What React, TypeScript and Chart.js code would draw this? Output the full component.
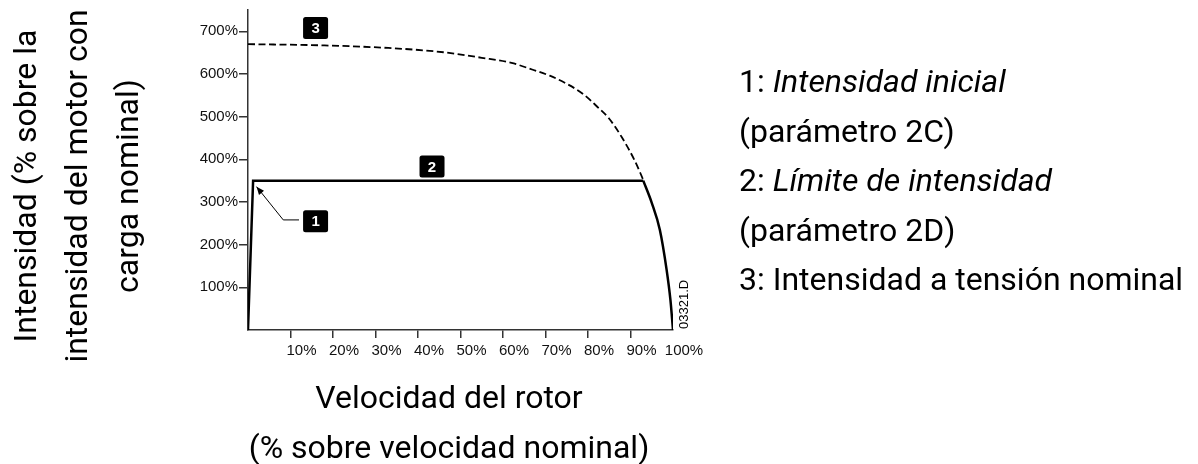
import React, { useEffect, useRef } from "react";
import { Chart, registerables } from "chart.js";

Chart.register(...registerables);

// ---------- data ----------
const speedTicks = [10, 20, 30, 40, 50, 60, 70, 80, 90, 100];
const currentTicks = [100, 200, 300, 400, 500, 600, 700];

// current-limited start (solid)
const rampX = [0, 1.2, 93];
const rampY = [0, 350, 350];
const falloffX = [93, 95, 96.9, 98.5, 99.4, 100];
const falloffY = [350, 298, 235, 141, 70, 0];

// current at nominal voltage (dashed)
const nominalX = [0, 18, 33, 46, 55, 62, 67, 71, 75, 79, 82, 85, 88, 91, 93];
const nominalY = [670, 667, 661, 651, 638, 626, 610, 596, 577, 552, 525, 495, 451, 397, 352];

// numbered markers (data coordinates)
const markerLabels = ["1", "2", "3"];
const markerX = [15.9, 43.3, 15.9];
const markerY = [255, 383, 708];

// leader arrow for marker 1 (data coordinates)
const arrowX = [12.0, 8.3, 2.0];
const arrowY = [258, 258, 336];

const yTitleLines = ["Intensidad (% sobre la", "intensidad del motor con", "carga nominal)"];
const xTitleLines = ["Velocidad del rotor", "(% sobre velocidad nominal)"];
const noteLines: { t: string; i: boolean }[][] = [
  [{ t: "1: ", i: false }, { t: "Intensidad inicial", i: true }],
  [{ t: "(parámetro 2C)", i: false }],
  [{ t: "2: ", i: false }, { t: "Límite de intensidad", i: true }],
  [{ t: "(parámetro 2D)", i: false }],
  [{ t: "3: Intensidad a tensión nominal", i: false }],
];
const drawingCode = "03321.D";

// ---------- layout ----------
const W = 1198;
const H = 464;
const BIG_FONT = "Roboto";
const BIG_SIZE = 32;
const TICK_FONT = "'Liberation Sans', Arial, sans-serif";
const AXIS_COLOR = "#333";

const zip = (xs: number[], ys: number[]) => xs.map((x, i) => ({ x, y: ys[i] }));

const decorPlugin = {
  id: "decor",
  afterDraw(chart: any) {
    const { ctx, chartArea } = chart;
    const xs = chart.scales.x;
    const ys = chart.scales.y;
    ctx.save();

    // arrow for marker 1
    const pts = arrowX.map((v, i) => [xs.getPixelForValue(v), ys.getPixelForValue(arrowY[i])]);
    ctx.strokeStyle = "#000";
    ctx.lineWidth = 1;
    ctx.beginPath();
    pts.forEach((p, i) => (i === 0 ? ctx.moveTo(p[0], p[1]) : ctx.lineTo(p[0], p[1])));
    ctx.stroke();
    const [tx, ty] = pts[pts.length - 1];
    const [px, py] = pts[pts.length - 2];
    const ang = Math.atan2(ty - py, tx - px);
    const hl = 8, hw = 3.2;
    ctx.fillStyle = "#000";
    ctx.beginPath();
    ctx.moveTo(tx, ty);
    ctx.lineTo(tx - hl * Math.cos(ang) + hw * Math.sin(ang), ty - hl * Math.sin(ang) - hw * Math.cos(ang));
    ctx.lineTo(tx - hl * Math.cos(ang) - hw * Math.sin(ang), ty - hl * Math.sin(ang) + hw * Math.cos(ang));
    ctx.closePath();
    ctx.fill();

    // numbered markers
    markerLabels.forEach((lab, i) => {
      const cx = xs.getPixelForValue(markerX[i]);
      const cy = ys.getPixelForValue(markerY[i]);
      const bw = 25, bh = 22;
      ctx.fillStyle = "#000";
      ctx.beginPath();
      (ctx as any).roundRect(cx - bw / 2, cy - bh / 2, bw, bh, 2.5);
      ctx.fill();
      ctx.fillStyle = "#fff";
      ctx.font = "bold 15px " + TICK_FONT;
      ctx.textAlign = "center";
      ctx.textBaseline = "middle";
      ctx.fillText(lab, cx, cy + 1);
    });

    // drawing code
    ctx.save();
    ctx.translate(chartArea.right + 15, chartArea.bottom - 1);
    ctx.rotate(-Math.PI / 2);
    ctx.fillStyle = "#000";
    ctx.font = "13px " + TICK_FONT;
    ctx.textAlign = "left";
    ctx.textBaseline = "alphabetic";
    ctx.fillText(drawingCode, 0, 0);
    ctx.restore();

    // y-axis title (rotated, 3 lines)
    ctx.fillStyle = "#000";
    ctx.font = `${BIG_SIZE}px ${BIG_FONT}`;
    const yBase = [36, 87, 138];
    yTitleLines.forEach((line, i) => {
      ctx.save();
      ctx.translate(yBase[i], 186);
      ctx.rotate(-Math.PI / 2);
      ctx.textAlign = "center";
      ctx.textBaseline = "alphabetic";
      ctx.fillText(line, 0, 0);
      ctx.restore();
    });

    // x-axis title
    ctx.textAlign = "center";
    ctx.textBaseline = "alphabetic";
    const xBase = [408, 458];
    xTitleLines.forEach((line, i) => ctx.fillText(line, 449, xBase[i]));

    // notes on the right
    ctx.textAlign = "left";
    const noteBase = [92, 141.5, 191, 240.5, 290];
    noteLines.forEach((parts, i) => {
      let x = 739;
      parts.forEach((p) => {
        ctx.font = `${p.i ? "italic " : ""}${BIG_SIZE}px ${BIG_FONT}`;
        ctx.fillText(p.t, x, noteBase[i]);
        x += ctx.measureText(p.t).width;
      });
    });

    ctx.restore();
  },
};

export default function App() {
  const ref = useRef<HTMLCanvasElement | null>(null);

  useEffect(() => {
    document.body.style.margin = "0";
    if (!ref.current) return;
    const chart = new Chart(ref.current, {
      type: "line",
      data: {
        datasets: [
          {
            label: "Límite",
            data: zip(rampX, rampY),
            borderColor: "#000",
            borderWidth: 2.5,
            pointRadius: 0,
            tension: 0,
            fill: false,
          },
          {
            label: "Caída",
            data: zip(falloffX, falloffY),
            borderColor: "#000",
            borderWidth: 2.5,
            pointRadius: 0,
            cubicInterpolationMode: "monotone",
            fill: false,
          },
          {
            label: "Tensión nominal",
            data: zip(nominalX, nominalY),
            borderColor: "#000",
            borderWidth: 1.8,
            borderDash: [7, 3.5],
            pointRadius: 0,
            cubicInterpolationMode: "monotone",
            fill: false,
          },
        ],
      },
      options: {
        animation: false,
        responsive: false,
        devicePixelRatio: 1,
        layout: { padding: { top: 10, right: 525, bottom: 0, left: 0 } },
        plugins: { legend: { display: false }, tooltip: { enabled: false } },
        scales: {
          x: {
            type: "linear",
            min: 0,
            max: 100,
            afterBuildTicks: (s: any) => {
              s.ticks = speedTicks.map((v) => ({ value: v }));
            },
            afterFit: (s: any) => {
              s.height = 134;
            },
            ticks: {
              callback: (v: any) => `${v}%`,
              font: { family: TICK_FONT, size: 15 },
              color: "#111",
              padding: 4,
              labelOffset: 11,
              maxRotation: 0,
              autoSkip: false,
            },
            grid: {
              drawOnChartArea: false,
              drawTicks: true,
              tickLength: 8,
              lineWidth: 1.5,
              color: (c: any) => (c.tick && c.tick.value === 100 ? "rgba(0,0,0,0)" : AXIS_COLOR),
            },
            border: { display: true, color: AXIS_COLOR, width: 1.5 },
          },
          y: {
            type: "linear",
            min: 0,
            max: 750,
            afterBuildTicks: (s: any) => {
              s.ticks = currentTicks.map((v) => ({ value: v }));
            },
            afterFit: (s: any) => {
              s.width = 248;
            },
            ticks: {
              callback: (v: any) => `${v}%`,
              font: { family: TICK_FONT, size: 15 },
              color: "#111",
              padding: 1,
              autoSkip: false,
            },
            grid: {
              drawOnChartArea: false,
              drawTicks: true,
              tickLength: 9,
              lineWidth: 1.5,
              color: AXIS_COLOR,
            },
            border: { display: true, color: AXIS_COLOR, width: 1.5 },
          },
        },
      } as any,
      plugins: [decorPlugin],
    });
    return () => chart.destroy();
  }, []);

  return (
    <div style={{ position: "absolute", left: 0, top: 0, width: W, height: H, background: "#fff" }}>
      <canvas ref={ref} width={W} height={H} style={{ width: W, height: H, display: "block" }} />
    </div>
  );
}
